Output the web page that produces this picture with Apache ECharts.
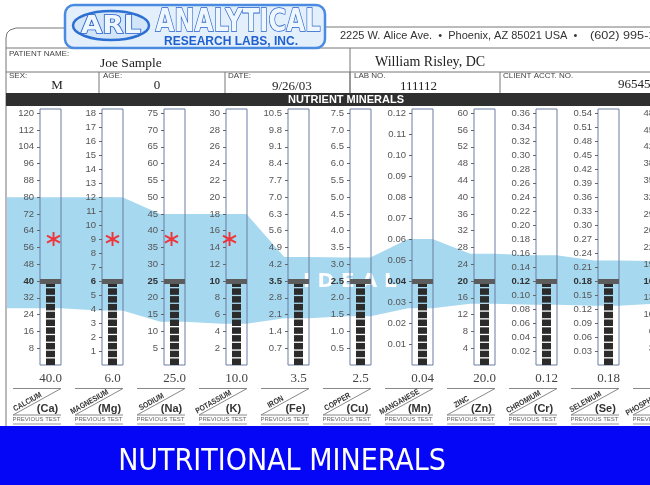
<!DOCTYPE html>
<html>
<head>
<meta charset="utf-8">
<title>Nutritional Minerals</title>
<script src="https://cdn.jsdelivr.net/npm/echarts@6/dist/echarts.min.js"></script>
<style>
  html, body { margin: 0; padding: 0; background: #fff; }
  #main { width: 650px; height: 485px; }
</style>
</head>
<body>
<div id="main"></div>
<script>
// mineral columns, left to right (the last one is cut by the page edge)
var minerals = ['CALCIUM', 'MAGNESIUM', 'SODIUM', 'POTASSIUM', 'IRON', 'COPPER', 'MANGANESE', 'ZINC', 'CHROMIUM', 'SELENIUM', 'PHOSPHORUS'];
var symbols = ['Ca', 'Mg', 'Na', 'K', 'Fe', 'Cu', 'Mn', 'Zn', 'Cr', 'Se', 'P'];
// ideal level of each mineral (bold tick + grey cap)
var ideals = [40, 6, 25, 10, 3.5, 2.5, 0.04, 20, 0.12, 0.18, 16];
// test result (bar) and the number printed under each tube
var results = [40.0, 6.0, 25.0, 10.0, 3.5, 2.5, 0.04, 20.0, 0.12, 0.18, 16];
var resultText = ['40.0', '6.0', '25.0', '10.0', '3.5', '2.5', '0.04', '20.0', '0.12', '0.18', '16.0'];
// previous test (red asterisk)
var previous = [60, 9, 37.5, 15, null, null, null, null, null, null, null];
// tick step + decimals of each scale (scales run up to 3x ideal)
var tickStep = [8, 1, 5, 2, 0.7, 0.5, 0.01, 4, 0.02, 0.03, 3.2];
var decimals = [0, 0, 0, 0, 1, 1, 2, 0, 2, 2, 0];
// light blue ideal band, upper / lower edge in each mineral's units
var bandHigh = [80, 12, 45, 18, 4.5, 3.2, 0.06, 26.5, 0.157, 0.224, 19.8];
var bandLow = [27, 3.9, 12.9, 4.9, 1.95, 1.45, 0.027, 14.6, 0.086, 0.127, 11.7];

// layout
var TUBE_X = 40, STEP = 62, TUBE_W = 21;
var TOP = 109, H = 256;
var SPAN = 3.05; // top of every scale, in ideals
var starShift = [3, 0, -3, -7];
var bandMinX = -(TUBE_X + TUBE_W / 2 - 7) / STEP;
var bandMaxX = (650 - TUBE_X - TUBE_W / 2) / STEP;

var ASTERISK = 'path://M8.7 0L11.3 0L11.3 20L8.7 20Z M1.94 3.8L19.26 13.8L17.96 16.2L0.64 6.2Z M0.64 13.8L17.96 3.8L19.26 6.2L1.94 16.2Z';

var myChart = echarts.init(document.getElementById('main'), null, {renderer: 'canvas'});

function renderBand(params, api) {
  var top = [api.coord([bandMinX, bandHigh[0] / ideals[0]])];
  var bot = [api.coord([bandMinX, bandLow[0] / ideals[0]])];
  for (var i = 0; i < ideals.length; i++) {
    top.push(api.coord([i - 0.23, bandHigh[i] / ideals[i]]));
    top.push(api.coord([i + 0.16, bandHigh[i] / ideals[i]]));
    bot.push(api.coord([i - 0.23, bandLow[i] / ideals[i]]));
    bot.push(api.coord([i + 0.16, bandLow[i] / ideals[i]]));
  }
  var pts = top.concat(bot.reverse());
  var p = api.coord([4.83, 1]);
  return {
    type: 'group',
    children: [
      {type: 'polygon', shape: {points: pts}, style: {fill: '#a6d8f0'}},
      {type: 'text', x: p[0], y: p[1] + 1, style: {
        text: 'I D E A L', fill: '#ffffff', font: 'bold 20px "DejaVu Sans"',
        textAlign: 'center', textVerticalAlign: 'middle', align: 'center', verticalAlign: 'middle'}}
    ]
  };
}

var grids = [{left: 7, right: 0, top: TOP, height: H, outerBoundsMode: 'none'}];
var xAxes = [{gridIndex: 0, type: 'value', min: bandMinX, max: bandMaxX, show: false}];
var yAxes = [{gridIndex: 0, type: 'value', min: 0, max: SPAN, show: false}];
var series = [{
  type: 'custom', xAxisIndex: 0, yAxisIndex: 0, z: -1, silent: true,
  data: [[0, 0]], renderItem: renderBand
}];

ideals.forEach(function (ideal, i) {
  var g = i + 1;
  var ticks = [];
  var n = Math.round(3 * ideal / tickStep[i]);
  for (var k = 1; k <= n; k++) ticks.push(+(k * tickStep[i]).toFixed(decimals[i] + 3));
  grids.push({
    left: TUBE_X + STEP * i, top: TOP, width: TUBE_W, height: H,
    show: true, borderColor: '#6a7ca3', borderWidth: 1, backgroundColor: 'transparent',
    outerBoundsMode: 'none'
  });
  xAxes.push({
    gridIndex: g, type: 'category', data: [resultText[i]],
    axisLine: {show: false}, axisTick: {show: false},
    axisLabel: {margin: 7, fontFamily: 'Liberation Serif', fontSize: 13, color: '#444'}
  });
  yAxes.push({
    gridIndex: g, type: 'value', min: 0, max: SPAN * ideal,
    axisLine: {show: false}, splitLine: {show: false},
    axisTick: {show: true, customValues: ticks, length: 3, lineStyle: {color: '#666'}},
    axisLabel: {
      customValues: ticks, margin: 6, fontSize: 9.5, color: '#555', hideOverlap: false,
      formatter: function (v) {
        var s = (+v).toFixed(decimals[i]);
        return Math.abs(v - ideal) < ideal * 1e-6 ? '{b|' + s + '}' : s;
      },
      rich: {b: {fontWeight: 'bold', color: '#333', fontSize: 9.5}}
    }
  });
  series.push({
    type: 'pictorialBar', xAxisIndex: g, yAxisIndex: g,
    data: [results[i]],
    symbol: 'rect', symbolRepeat: true, symbolSize: [9, 6.5], symbolMargin: 0.75,
    symbolClip: true, itemStyle: {color: '#2b2b2b'}, z: 3, silent: true,
    markLine: {
      silent: true, symbol: ['none', 'none'], label: {show: false},
      lineStyle: {color: '#5c5c5c', width: 5, type: 'solid'},
      data: [{yAxis: ideal}]
    }
  });
  if (previous[i] != null) {
    series.push({
      type: 'scatter', xAxisIndex: g, yAxisIndex: g,
      data: [[0, previous[i]]],
      symbol: ASTERISK, symbolSize: 14, symbolOffset: [starShift[i], 0],
      itemStyle: {color: '#ff0f0f'}, z: 4, silent: true
    });
  }
});

// ---- page furniture (report form) ----
function txt(x, y, text, font, fill, align, extra) {
  var el = {
    type: 'text', x: x, y: y, silent: true,
    style: {text: text, font: font, fill: fill || '#333',
      textAlign: align || 'left', align: align || 'left',
      textVerticalAlign: 'middle', verticalAlign: 'middle'}
  };
  if (extra) for (var key in extra) el[key] = extra[key];
  return el;
}
function line(x1, y1, x2, y2, color, w) {
  return {type: 'line', silent: true, shape: {x1: x1, y1: y1, x2: x2, y2: y2},
    style: {stroke: color || '#777', lineWidth: w || 1}};
}

var SANS = '"Liberation Sans"';
var SERIF = '"Liberation Serif"';
var graphics = [];

// frame + form rows
graphics.push({type: 'polyline', silent: true,
  shape: {points: [[6, 426], [6, 38], [7, 33], [10, 30], [16, 28], [65, 28]]},
  style: {stroke: '#777', lineWidth: 1, fill: null}});
graphics.push(line(325, 27, 650, 27));
graphics.push(line(6, 48, 650, 48));
graphics.push(line(6, 72, 650, 72));
graphics.push(line(350, 48, 350, 93));
[99, 225, 350, 500].forEach(function (x) { graphics.push(line(x, 72, x, 93)); });
graphics.push({type: 'rect', silent: true, shape: {x: 6, y: 93, width: 644, height: 13}, style: {fill: '#2f2f2f'}});
graphics.push(txt(346, 100, 'NUTRIENT MINERALS', 'bold 11px ' + SANS, '#fff', 'center'));

// logo
graphics.push({type: 'rect', silent: true, shape: {x: 65, y: 5, width: 260, height: 43, r: 9},
  style: {fill: '#e3f0fc', stroke: '#4a8ae0', lineWidth: 2.5}});
graphics.push({type: 'ellipse', silent: true, shape: {cx: 111, cy: 25.5, rx: 38, ry: 14.5},
  style: {fill: '#d3e6f9', stroke: '#2d6fd2', lineWidth: 2.5}});
var arl = txt(111, 26, 'ARL', 'bold 25px "DejaVu Sans"', '#eef6fe', 'center', {scaleX: 1.1});
arl.style.stroke = '#2560cc';
arl.style.lineWidth = 1.6;
graphics.push(arl);
var ana = txt(238, 23, 'ANALYTICAL', 'bold 32px "DejaVu Sans"', '#eef6fe', 'center', {scaleX: 0.76});
ana.style.stroke = '#2560cc';
ana.style.lineWidth = 1.6;
graphics.push(ana);
graphics.push(txt(231, 42, 'RESEARCH LABS, INC.', 'bold 12px ' + SANS, '#1f5fcf', 'center'));
graphics.push(txt(340, 36, '2225 W. Alice Ave.  \u2022  Phoenix, AZ 85021 USA  \u2022', '11px ' + SANS, '#333'));
graphics.push(txt(590, 36, '(602) 995-1900', '11px ' + SANS, '#333', 'left', {scaleX: 1.15}));

// patient rows
graphics.push(txt(9, 54, 'PATIENT NAME:', '8px ' + SANS, '#444'));
graphics.push(txt(100, 63, 'Joe Sample', '13.5px ' + SERIF, '#222'));
graphics.push(txt(375, 62, 'William Risley, DC', '14px ' + SERIF, '#222'));
graphics.push(txt(9, 76, 'SEX:', '8px ' + SANS, '#444'));
graphics.push(txt(103, 76, 'AGE:', '8px ' + SANS, '#444'));
graphics.push(txt(228, 76, 'DATE:', '8px ' + SANS, '#444'));
graphics.push(txt(354, 76, 'LAB NO.', '8px ' + SANS, '#444'));
graphics.push(txt(503, 76, 'CLIENT ACCT. NO.', '8px ' + SANS, '#444'));
graphics.push(txt(57, 86, 'M', '13px ' + SERIF, '#222', 'center'));
graphics.push(txt(157, 86, '0', '13px ' + SERIF, '#222', 'center'));
graphics.push(txt(272, 87, '9/26/03', '13px ' + SERIF, '#222'));
graphics.push(txt(400, 87, '111112', '13px ' + SERIF, '#222'));
graphics.push(txt(618, 85, '96545', '13px ' + SERIF, '#222'));

// name boxes under the tubes
var ANG = Math.atan2(27, 48);
minerals.forEach(function (name, i) {
  var cx = TUBE_X + TUBE_W / 2 + STEP * i;
  graphics.push(line(cx - 37.5, 388.5, cx + 10.5, 388.5, '#888'));
  graphics.push(line(cx - 37.5, 415, cx + 10.5, 415, '#888'));
  graphics.push(line(cx - 37.5, 415, cx + 10.5, 388.5, '#888'));
  var t = txt(cx - 21, 405.5, name, 'bold 8px ' + SANS, '#333', 'center', {rotation: ANG, scaleX: 0.85});
  t.style.verticalAlign = 'bottom';
  t.style.textVerticalAlign = 'bottom';
  graphics.push(t);
  graphics.push(txt(cx - 3, 409, '(' + symbols[i] + ')', 'bold 11px ' + SANS, '#333', 'center'));
  graphics.push(txt(cx - 14, 419.5, 'PREVIOUS TEST', '6px ' + SANS, '#666', 'center'));
  graphics.push(line(cx - 37.5, 424, cx + 10.5, 424, '#999'));
});

// blue banner
graphics.push({type: 'rect', silent: true, z: 100, shape: {x: 0, y: 426, width: 650, height: 59}, style: {fill: '#0606f6'}});
graphics.push(txt(282, 462, 'NUTRITIONAL MINERALS', '30px "DejaVu Sans Condensed"', '#ffffff', 'center', {z: 101}));

var option = {
  animation: false,
  backgroundColor: '#ffffff',
  textStyle: {fontFamily: 'Liberation Sans'},
  grid: grids,
  xAxis: xAxes,
  yAxis: yAxes,
  series: series,
  graphic: {elements: graphics}
};
myChart.setOption(option);
</script>
</body>
</html>
